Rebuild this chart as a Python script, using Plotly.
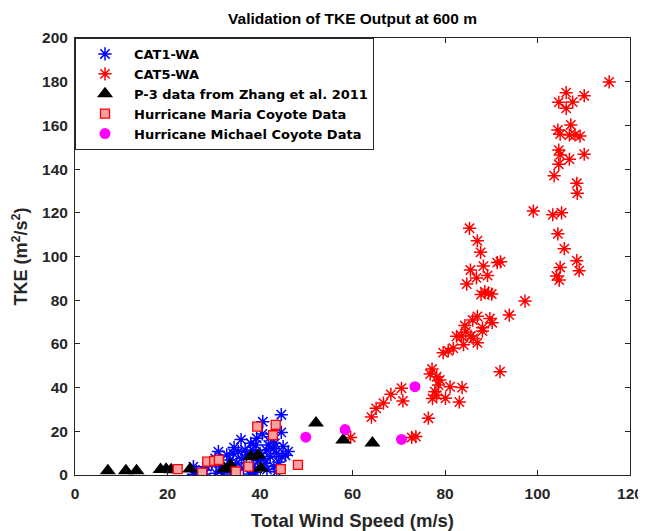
import plotly.graph_objects as go

# ---- data ----
cat1_x = [44.6, 40.6, 44.6, 42.2, 35.9, 39.3, 39.1, 34.4, 31.0, 35.3, 36.8, 41.8, 43.2, 45.0, 46.1,
          43.6, 42.2, 44.7, 41.1, 32.8, 30.3, 28.5, 26.3, 25.6, 33.5, 31.4, 36.4, 43.6, 38.6, 37.8,
          29.6, 27.7, 34.2, 37.1, 40.0, 41.4, 25.6, 38.0, 40.5, 42.9, 44.0, 39.5, 35.0, 32.0, 30.5,
          28.0, 39.0, 41.5, 36.0, 33.0, 34.0, 43.0, 45.5, 38.5, 40.8]
cat1_y = [27.6, 24.4, 19.5, 17.5, 16.2, 16.8, 13.7, 12.6, 10.7, 10.7, 11.4, 13.7, 14.5, 13.0, 10.7,
          9.9, 8.4, 8.4, 5.3, 9.2, 7.6, 3.8, 1.5, 0.3, 6.9, 3.8, 3.1, 1.5, 3.8, 0.5,
          5.3, 2.3, 9.9, 9.2, 9.9, 11.4, 3.8, 14.5, 18.8, 12.0, 6.0, 6.5, 5.5, 1.0, 0.8,
          0.5, 1.2, 2.5, 7.5, 4.0, 0.5, 4.0, 9.0, 11.0, 7.5]

cat5_x = [115.5, 106.2, 110.1, 104.6, 107.6, 106.2, 107.2, 104.4, 104.9, 106.9, 108.1, 109.2, 104.6,
          104.9, 106.9, 110.1, 104.6, 103.6, 108.5, 108.6, 99.1, 103.3, 105.2, 104.4, 105.8, 108.5,
          109.0, 104.9, 104.1, 104.7, 85.3, 87.0, 87.7, 91.3, 92.0, 85.5, 88.3, 89.2, 86.8, 84.7,
          87.8, 88.6, 89.4, 90.1, 97.3, 93.9, 87.0, 86.0, 89.7, 90.2, 84.3, 88.1, 82.5, 83.6, 85.6,
          88.1, 86.1, 87.0, 84.0, 81.8, 80.7, 79.6, 84.5, 91.9, 77.2, 76.8, 78.2, 78.9, 78.6, 77.8,
          81.1, 83.7, 77.3, 78.2, 80.1, 83.1, 76.4, 70.6, 68.3, 70.9, 66.7, 65.1, 64.1, 59.6, 72.8,
          73.7]
cat5_y = [179.9, 175.0, 173.6, 170.6, 170.7, 167.8, 160.2, 157.9, 156.0, 155.6, 155.6, 155.1, 148.7,
          146.5, 144.5, 146.8, 142.2, 137.0, 133.5, 128.9, 120.8, 119.1, 120.0, 110.4, 103.6, 98.1,
          93.5, 95.0, 91.1, 89.2, 112.9, 107.2, 101.9, 97.2, 97.6, 93.8, 95.6, 91.3, 90.2, 87.4,
          82.6, 83.9, 83.2, 82.8, 79.6, 73.2, 72.6, 70.9, 71.6, 69.7, 68.4, 67.4, 63.5, 63.6, 63.6,
          65.9, 62.5, 60.5, 59.6, 58.0, 56.8, 56.0, 65.5, 47.3, 48.5, 46.2, 45.0, 43.5, 41.2, 38.1,
          40.4, 40.0, 35.0, 36.5, 35.1, 33.4, 26.0, 39.7, 36.9, 33.9, 32.9, 30.5, 26.5, 17.2, 17.2,
          17.6]

p3_x = [7.1, 11.0, 13.3, 18.5, 19.7, 20.8, 24.9, 32.3, 33.6, 38.0, 39.6, 40.2, 52.1, 58.0, 64.3]
p3_y = [2.0, 2.0, 2.0, 2.5, 2.6, 2.4, 2.8, 2.8, 4.6, 8.3, 9.0, 3.1, 23.8, 16.0, 14.7]

maria_x = [22.2, 27.5, 28.6, 30.1, 31.1, 34.8, 37.5, 39.4, 43.4, 42.8, 44.5, 48.2]
maria_y = [2.7, 1.1, 6.1, 6.4, 6.9, 1.6, 3.8, 22.1, 22.9, 18.2, 2.7, 4.6]

michael_x = [49.9, 58.4, 70.6, 73.5]
michael_y = [17.3, 20.8, 16.3, 40.4]

x_ticks = [0, 20, 40, 60, 80, 100, 120]
y_ticks = [0, 20, 40, 60, 80, 100, 120, 140, 160, 180, 200]

FONT = "Liberation Sans, Arial, sans-serif"
LEG_FONT = "DejaVu Sans, sans-serif"

fig = go.Figure()
fig.add_trace(go.Scatter(x=cat1_x, y=cat1_y, mode="markers", name="<b>CAT1-WA</b>",
                         marker=dict(symbol="asterisk-open", size=11, color="#0000ff",
                                     line=dict(color="#0000ff", width=1.5))))
fig.add_trace(go.Scatter(x=cat5_x, y=cat5_y, mode="markers", name="<b>CAT5-WA</b>",
                         marker=dict(symbol="asterisk-open", size=11, color="#ff0000",
                                     line=dict(color="#ff0000", width=1.5))))
fig.add_trace(go.Scatter(x=p3_x, y=p3_y, mode="markers", name="<b>P-3 data from Zhang et al. 2011</b>",
                         marker=dict(symbol="triangle-up", size=14, color="#000000",
                                     line=dict(width=0))))
fig.add_trace(go.Scatter(x=maria_x, y=maria_y, mode="markers", name="<b>Hurricane Maria Coyote Data</b>",
                         marker=dict(symbol="square", size=9, color="#f7a1a1",
                                     line=dict(color="#ff0000", width=1.3))))
fig.add_trace(go.Scatter(x=michael_x, y=michael_y, mode="markers", name="<b>Hurricane Michael Coyote Data</b>",
                         marker=dict(symbol="circle", size=11, color="#ff00ff",
                                     line=dict(width=0))))

axis_common = dict(showline=True, linecolor="#262626", linewidth=1, mirror="ticks",
                   ticks="inside", ticklen=5, tickcolor="#262626", showgrid=False,
                   zeroline=False, automargin=False,
                   tickfont=dict(family=FONT, size=15.5, color="#262626"))

# the page body adds an 8 px offset, so the figure is 8 px smaller and margins shifted
fig.update_layout(
    width=638, height=523,
    margin=dict(l=67, r=16, t=30, b=56),
    paper_bgcolor="white", plot_bgcolor="white",
    font=dict(family=FONT, color="#262626"),
    title=dict(text="<b>Validation of TKE Output at 600 m</b>", x=0.5, xanchor="center", xref="paper",
               y=1 - 11 / 523, yanchor="middle", font=dict(family=FONT, size=15.5, color="#000000")),
    xaxis=dict(range=[0, 120], tickvals=x_ticks, ticktext=[f"<b>{v}</b>" for v in x_ticks],
               ticklabelstandoff=4,
               title=dict(text="<b>Total Wind Speed (m/s)</b>",
                          font=dict(family=FONT, size=18.5, color="#262626"), standoff=15),
               **axis_common),
    yaxis=dict(range=[0, 200], tickvals=y_ticks, ticktext=[f"<b>{v}</b>" for v in y_ticks],
               ticklabelstandoff=3,
               title=dict(text="<b>TKE (m<sup>2</sup>/s<sup>2</sup>)</b>",
                          font=dict(family=FONT, size=18, color="#262626"), standoff=9),
               **axis_common),
    legend=dict(x=0, y=1, xanchor="left", yanchor="top", bgcolor="white",
                bordercolor="#262626", borderwidth=1,
                font=dict(family=LEG_FONT, size=13, color="#000000"),
                itemwidth=48, tracegroupgap=0),
    showlegend=True,
)

fig.write_html("out.html")
